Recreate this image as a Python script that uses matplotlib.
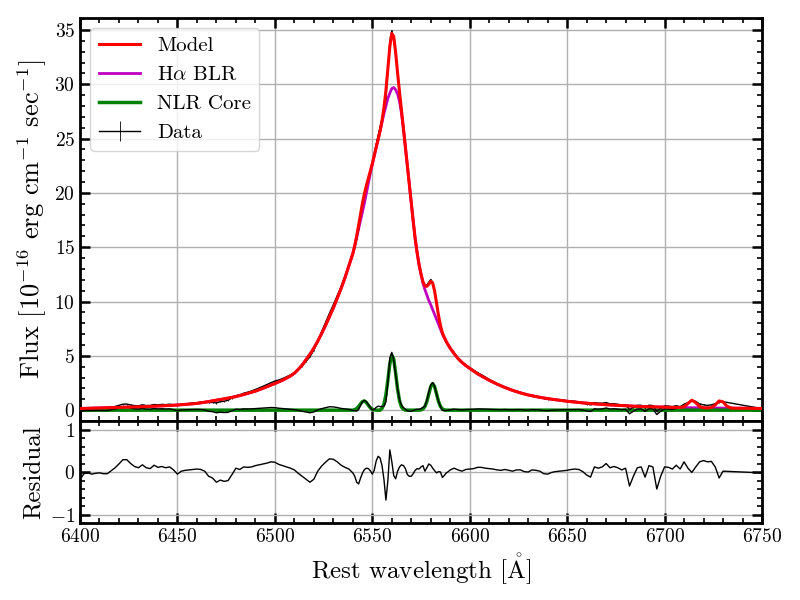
import numpy as np
import matplotlib
matplotlib.use("Agg")
import matplotlib.pyplot as plt
from matplotlib.ticker import MultipleLocator

# wavelength sampling (2 A in the wings, 1 A around H-alpha + [NII])
wave = np.concatenate([np.arange(6400, 6541, 2),
                       np.arange(6541, 6591, 1),
                       np.arange(6592, 6751, 2)]).astype(float)

# broad H-alpha component
blr = [0.15, 0.16, 0.17, 0.18, 0.19, 0.20, 0.21, 0.22, 0.23, 0.24,
       0.25, 0.26, 0.27, 0.28, 0.29, 0.30, 0.32, 0.33, 0.35, 0.36,
       0.38, 0.40, 0.41, 0.43, 0.45, 0.47, 0.50, 0.53, 0.56, 0.59,
       0.62, 0.67, 0.73, 0.79, 0.85, 0.90, 0.97, 1.04, 1.11, 1.18,
       1.25, 1.34, 1.44, 1.54, 1.64, 1.75, 1.88, 2.02, 2.16, 2.30,
       2.45, 2.60, 2.76, 2.95, 3.15, 3.40, 3.75, 4.15, 4.65, 5.15,
       5.70, 6.35, 7.05, 7.80, 8.60, 9.40, 10.30, 11.20, 12.20, 13.30,
       14.40,
       # 6541 - 6590
       15.1, 15.9, 16.7, 17.5, 18.3, 19.1, 20.0, 20.9, 21.8, 22.6,
       23.4, 24.2, 24.9, 25.7, 26.5, 27.3, 28.0, 28.7, 29.2, 29.6,
       29.7, 29.5, 29.1, 28.4, 27.3, 25.9, 24.2, 22.5, 20.8, 19.1,
       17.4, 15.8, 14.5, 13.4, 12.5, 11.7, 11.1, 10.6, 10.1, 9.7,
       9.25, 8.8, 8.35, 7.9, 7.45, 7.0, 6.65, 6.3, 6.0, 5.7,
       # 6592 - 6750
       5.2, 4.75, 4.4, 4.1, 3.85, 3.6, 3.35, 3.15, 2.95, 2.75,
       2.57, 2.40, 2.24, 2.09, 1.95, 1.82, 1.70, 1.59, 1.49, 1.40,
       1.32, 1.25, 1.18, 1.12, 1.06, 1.01, 0.96, 0.91, 0.86, 0.82,
       0.78, 0.74, 0.70, 0.67, 0.64, 0.61, 0.58, 0.55, 0.52, 0.50,
       0.48, 0.46, 0.44, 0.42, 0.40, 0.38, 0.36, 0.35, 0.33, 0.32,
       0.31, 0.30, 0.29, 0.28, 0.27, 0.26, 0.25, 0.25, 0.24, 0.23,
       0.23, 0.22, 0.22, 0.21, 0.21, 0.20, 0.20, 0.20, 0.19, 0.19,
       0.19, 0.18, 0.18, 0.18, 0.17, 0.17, 0.17, 0.16, 0.16, 0.16]

# narrow lines ([NII]6548, H-alpha, [NII]6583) for 6541 - 6590
nlr_wave = np.arange(6541, 6591, 1)
nlr_core = [0.05, 0.15, 0.34, 0.59, 0.80, 0.84, 0.69, 0.44, 0.22, 0.08,
            0.03, 0.00, 0.00, 0.00, 0.17, 0.56, 1.42, 2.78, 4.26, 5.07,
            4.71, 3.40, 1.91, 0.84, 0.29, 0.08, 0.00, 0.00, 0.00, 0.00,
            0.00, 0.00, 0.00, 0.00, 0.03, 0.11, 0.33, 0.80, 1.49, 2.16,
            2.45, 2.16, 1.49, 0.80, 0.33, 0.11, 0.03, 0.00, 0.00, 0.00]

# [SII] doublet, only in the total model
sii_wave = np.arange(6706, 6751, 2)
sii = [0.00, 0.01, 0.08, 0.38, 0.70, 0.47, 0.12, 0.01, 0.00, 0.04,
       0.28, 0.66, 0.57, 0.18, 0.02, 0.00, 0.00, 0.00, 0.00, 0.00,
       0.00, 0.00, 0.00]

# residual (data - model), nan where there are no data points
nan = np.nan
resid = [-0.18, -0.04, -0.02, -0.05, -0.03, -0.02, -0.04, -0.04, 0.03, 0.10,
         0.19, 0.29, 0.29, 0.20, 0.13, 0.10, 0.17, 0.10, 0.08, 0.16,
         0.11, 0.13, 0.10, 0.12, 0.05, -0.05, 0.02, 0.04, 0.05, 0.06,
         0.07, 0.06, 0.02, -0.10, -0.14, -0.24, -0.19, -0.22, -0.20, -0.06,
         0.09, 0.06, 0.12, 0.11, 0.12, 0.15, 0.17, 0.19, 0.21, 0.24,
         0.23, 0.18, 0.15, 0.12, 0.09, 0.05, -0.03, -0.10, -0.17, -0.24,
         -0.17, 0.02, 0.14, 0.23, 0.31, 0.30, 0.24, 0.16, 0.11, 0.07,
         -0.02,
         # 6541 - 6590
         -0.10, -0.24, -0.28, -0.14, -0.02, 0.06, 0.09, 0.08, 0.03, -0.05,
         0.04, 0.26, 0.37, 0.33, 0.15, -0.18, -0.66, -0.20, 0.52, 0.25,
         -0.08, -0.16, 0.02, 0.12, 0.17, 0.15, 0.08, -0.06, -0.10, -0.10,
         -0.04, 0.04, 0.08, 0.07, 0.12, 0.15, 0.02, 0.10, 0.19, 0.16,
         0.09, 0.03, -0.02, 0.01, 0.00, -0.13, -0.08, -0.02, 0.01, 0.05,
         # 6592 - 6750
         0.09, 0.05, 0.02, 0.06, 0.07, 0.08, 0.11, 0.11, 0.09, 0.08,
         0.07, 0.05, 0.04, 0.06, 0.04, 0.02, 0.05, 0.05, 0.01, 0.00,
         0.05, 0.04, 0.02, -0.04, -0.05, -0.01, 0.01, 0.02, 0.03, 0.04,
         0.06, 0.07, 0.06, 0.01, -0.07, -0.12, 0.12, 0.09, 0.12, 0.20,
         0.10, 0.13, 0.10, 0.05, 0.09, -0.33, -0.10, 0.10, 0.12, -0.12,
         0.15, 0.12, -0.40, -0.10, 0.12, 0.11, 0.07, 0.16, 0.07, 0.24,
         0.09, -0.01, 0.12, 0.24, 0.27, 0.24, 0.25, 0.12, -0.14, 0.02,
         nan, nan, nan, nan, nan, nan, nan, nan, nan, -0.02]

flux_err = 0.05


def setup_style():
    plt.rcParams['font.family'] = ['cmr10', 'DejaVu Serif']
    plt.rcParams['mathtext.fontset'] = 'cm'
    plt.rcParams['axes.formatter.use_mathtext'] = True
    plt.rcParams['axes.unicode_minus'] = True


def style_axis(ax):
    ax.tick_params(which='both', direction='in', top=True, right=True, labelsize=14)
    ax.tick_params(which='major', length=7, width=1.8)
    ax.tick_params(which='minor', length=3.5, width=1.2)
    for sp in ax.spines.values():
        sp.set_linewidth(2)
    ax.grid(True, which='major', color='#b0b0b0', lw=1)
    ax.set_axisbelow(True)


def main():
    setup_style()

    blr_arr = np.array(blr)
    nlr_arr = np.zeros_like(wave)
    nlr_arr[np.isin(wave, nlr_wave)] = nlr_core
    sii_arr = np.zeros_like(wave)
    sii_arr[np.isin(wave, sii_wave)] = sii
    res_arr = np.array(resid)

    model = blr_arr + nlr_arr + sii_arr
    ok = np.isfinite(res_arr)
    data = model + res_arr
    narrow_ok = ok & (wave <= 6706)

    fig = plt.figure(figsize=(8, 6), dpi=100)
    ax = fig.add_axes([0.1, 0.2983, 0.8525, 0.6717])
    axr = fig.add_axes([0.1, 0.1283, 0.8525, 0.17], sharex=ax)

    # top panel: fit components and data
    ax.plot(wave, blr_arr, color='m', lw=2, zorder=2, label=r'H$\alpha$ BLR')
    ax.plot(wave, nlr_arr, color='g', lw=2.5, zorder=2, label='NLR Core')
    ax.errorbar(wave[ok], data[ok], yerr=flux_err, color='k', lw=1, elinewidth=0.6,
                zorder=3, label='Data')
    ax.plot(wave[narrow_ok], nlr_arr[narrow_ok] + res_arr[narrow_ok], color='k', lw=1, zorder=3)
    ax.plot(wave, model, color='r', lw=2.2, zorder=4, label='Model')

    handles, labels = ax.get_legend_handles_labels()
    order = [labels.index(k) for k in ['Model', r'H$\alpha$ BLR', 'NLR Core', 'Data']]
    ax.legend([handles[i] for i in order], [labels[i] for i in order],
              loc='upper left', fontsize=15)

    ax.set_xlim(6400, 6750)
    ax.set_ylim(-1.0, 36.1)
    ax.yaxis.set_major_locator(MultipleLocator(5))
    ax.yaxis.set_minor_locator(MultipleLocator(1))
    ax.xaxis.set_major_locator(MultipleLocator(50))
    ax.xaxis.set_minor_locator(MultipleLocator(10))
    style_axis(ax)
    ax.tick_params(labelbottom=False)
    ax.set_ylabel(r'Flux [$10^{-16}$ erg cm$^{-1}$ sec$^{-1}$]', fontsize=19)

    # bottom panel: residuals
    axr.plot(wave[ok], res_arr[ok], color='k', lw=1)
    axr.set_ylim(-1.2, 1.2)
    axr.yaxis.set_major_locator(MultipleLocator(1))
    axr.yaxis.set_minor_locator(MultipleLocator(0.2))
    style_axis(axr)
    axr.set_ylabel('Residual', fontsize=18)
    axr.set_xlabel(r'Rest wavelength [$\mathring{\mathrm{A}}$]', fontsize=18)

    fig.align_ylabels([ax, axr])
    fig.savefig('out.png', dpi=100)


if __name__ == "__main__":
    main()
